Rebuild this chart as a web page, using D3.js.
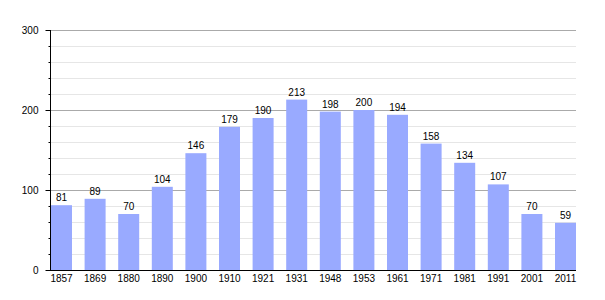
<!DOCTYPE html>
<html>
<head>
<meta charset="utf-8">
<script src="https://cdn.jsdelivr.net/npm/d3@7"></script>
<style>
  body { margin: 0; background: #fff; }
  text { font-family: "Liberation Sans", Arial, sans-serif; font-size: 10px; fill: #000; }
</style>
</head>
<body>
<script>
// census years and population
var years = ["1857", "1869", "1880", "1890", "1900", "1910", "1921", "1931",
             "1948", "1953", "1961", "1971", "1981", "1991", "2001", "2011"];
var population = [81, 89, 70, 104, 146, 179, 190, 213, 198, 200, 194, 158, 134, 107, 70, 59];
var majorTicks = [0, 100, 200, 300];
var minorTicks = d3.range(0, 301, 20);

var width = 605, height = 300;

var svg = d3.select("body").append("svg")
    .attr("width", width)
    .attr("height", height);

var x = d3.scaleBand()
    .domain(years)
    .range([51, 588.6])
    .paddingInner(0.375)
    .paddingOuter(0.1875)
    .align(0);

var y = d3.scaleLinear()
    .domain([0, 300])
    .range([270, 30]);

// gridlines, minor first then major
svg.selectAll(".minor").data(minorTicks.filter(function(d){ return d % 100 != 0; }))
    .enter().append("line")
    .attr("x1", 50).attr("x2", 576)
    .attr("y1", function(d){ return y(d) + 0.5; })
    .attr("y2", function(d){ return y(d) + 0.5; })
    .attr("stroke", "#e6e6e6");

svg.selectAll(".major").data(majorTicks.slice(1))
    .enter().append("line")
    .attr("x1", 50).attr("x2", 576)
    .attr("y1", function(d){ return y(d) + 0.5; })
    .attr("y2", function(d){ return y(d) + 0.5; })
    .attr("stroke", "#aaaaaa");

// bars
svg.selectAll(".bar").data(population)
    .enter().append("rect")
    .attr("x", function(d, i){ return x(years[i]); })
    .attr("y", function(d){ return y(d); })
    .attr("width", x.bandwidth())
    .attr("height", function(d){ return y(0) - y(d); })
    .attr("fill", "#99aaff");

// value labels
svg.selectAll(".val").data(population)
    .enter().append("text")
    .attr("x", function(d, i){ return x(years[i]) + x.bandwidth() / 2; })
    .attr("y", function(d){ return y(d) - 4; })
    .attr("text-anchor", "middle")
    .text(function(d){ return d; });

// y axis
var yAxis = d3.axisLeft(y).tickValues(minorTicks)
    .tickSize(2)
    .tickFormat("");
var yAxisG = svg.append("g").attr("transform", "translate(50.5,0)").call(yAxis);
yAxisG.select(".domain").attr("d", "M0," + y(300) + "V" + y(0));

var yMajor = d3.axisLeft(y).tickValues(majorTicks)
    .tickSize(5)
    .tickPadding(7);
var yMajorG = svg.append("g").attr("transform", "translate(50.5,0)").call(yMajor);
yMajorG.select(".domain").remove();
yMajorG.selectAll("text").style("font-size", "10px");

// x axis
var xAxis = d3.axisBottom(x).tickSize(0).tickPadding(4);
var xAxisG = svg.append("g").attr("transform", "translate(0,270.5)").call(xAxis);
xAxisG.select(".domain").attr("d", "M50,0H576");
xAxisG.selectAll("text").style("font-size", "10px");
</script>
</body>
</html>
